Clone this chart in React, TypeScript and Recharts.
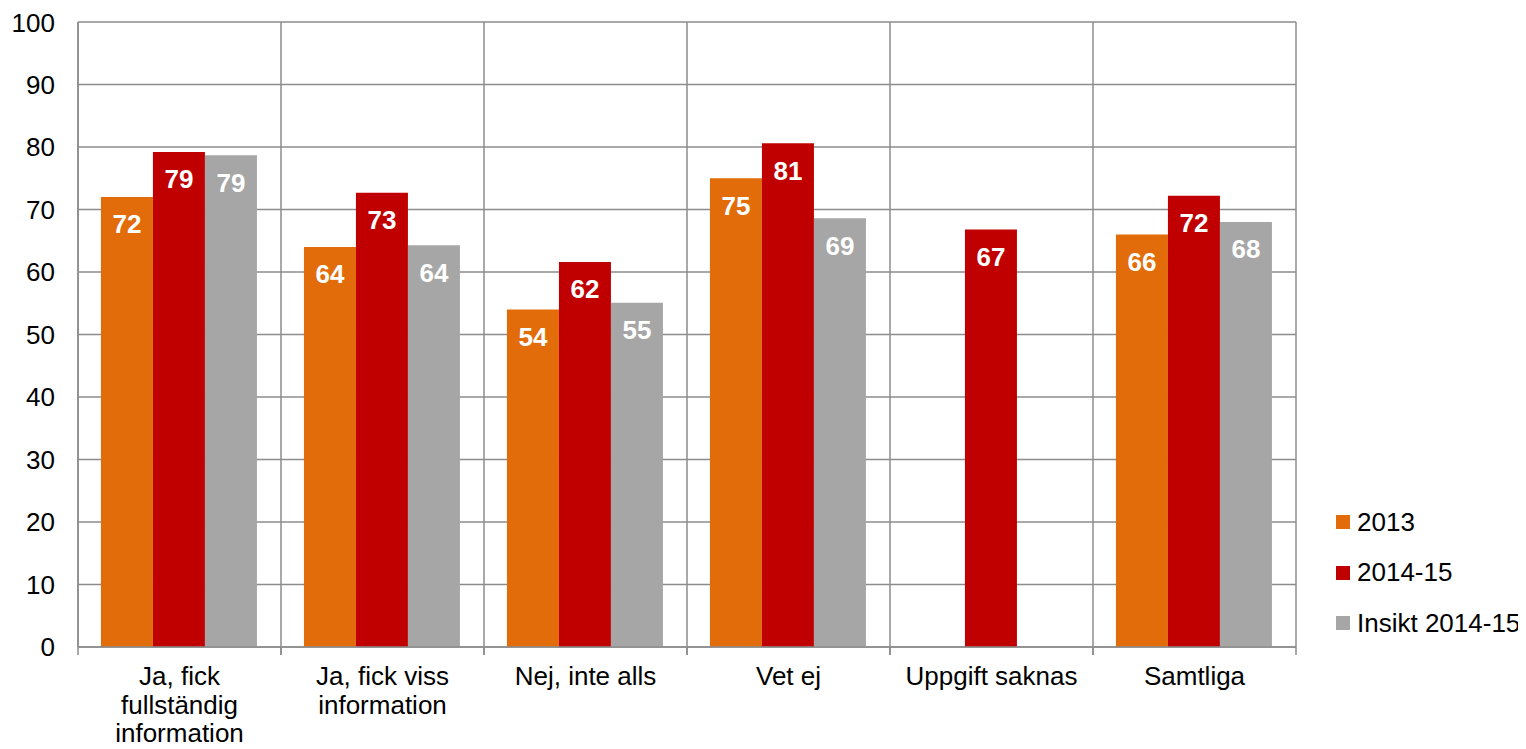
import React from "react";
import {
  BarChart,
  Bar,
  XAxis,
  YAxis,
  CartesianGrid,
  LabelList,
} from "recharts";

const categories = [
  "Ja, fick\nfullständig\ninformation",
  "Ja, fick viss\ninformation",
  "Nej, inte alls",
  "Vet ej",
  "Uppgift saknas",
  "Samtliga",
];
const values2013 = [72, 64, 54, 75, null, 66];
const values2014 = [79.2, 72.7, 61.6, 80.6, 66.8, 72.2];
const valuesInsikt = [78.7, 64.3, 55.1, 68.6, null, 68];
const yTicks = [0, 10, 20, 30, 40, 50, 60, 70, 80, 90, 100];

const seriesInfo = [
  { key: "s2013", name: "2013", color: "#E36C0A" },
  { key: "s2014", name: "2014-15", color: "#C00000" },
  { key: "insikt", name: "Insikt 2014-15", color: "#A6A6A6" },
];

const data = categories.map((c, i) => ({
  name: c,
  s2013: values2013[i],
  s2014: values2014[i],
  insikt: valuesInsikt[i],
}));

const FONT = "'Liberation Sans', Arial, sans-serif";
const BAND = 1218 / 6;

function CategoryTick(props: any) {
  const { x, y, payload } = props;
  const lines = String(payload.value).split("\n");
  return (
    <g>
      <line x1={x - BAND / 2} x2={x - BAND / 2} y1={y - 8} y2={y} stroke="#8c8c8c" strokeWidth={1.5} />
      <line x1={x + BAND / 2} x2={x + BAND / 2} y1={y - 8} y2={y} stroke="#8c8c8c" strokeWidth={1.5} />
      <text x={x} y={y + 30} textAnchor="middle" fontSize={26} fill="#000" fontFamily={FONT}>
        {lines.map((l, i) => (
          <tspan key={i} x={x} dy={i === 0 ? 0 : 28.5}>
            {l}
          </tspan>
        ))}
      </text>
    </g>
  );
}

const fmt = (v: any) => (v == null ? "" : Math.round(v));

export default function App() {
  return (
    <div style={{ position: "relative", width: 1510, height: 741 }}>
      <BarChart
        width={1510}
        height={741}
        data={data}
        margin={{ top: 14, right: 222, bottom: 0, left: 0 }}
        barCategoryGap="11.3%"
        barGap={0}
      >
        <CartesianGrid
          stroke="#8c8c8c"
          strokeWidth={1.5}
          verticalCoordinatesGenerator={({ offset }: any) =>
            [0, 1, 2, 3, 4, 5, 6].map((i) => offset.left + (i * offset.width) / 6)
          }
        />
        <XAxis
          dataKey="name"
          height={102}
          interval={0}
          tickLine={false}
          axisLine={{ stroke: "#8c8c8c", strokeWidth: 1.5 }}
          tick={<CategoryTick />}
        />
        <YAxis
          width={70}
          domain={[0, 100]}
          ticks={yTicks}
          tickLine={false}
          axisLine={{ stroke: "#8c8c8c", strokeWidth: 1.5 }}
          tickMargin={17}
          tick={{ fontSize: 26, fill: "#000", fontFamily: FONT }}
        />
        {seriesInfo.map((s) => (
          <Bar key={s.key} dataKey={s.key} name={s.name} fill={s.color} isAnimationActive={false}>
            <LabelList
              dataKey={s.key}
              position="insideTop"
              offset={18}
              formatter={fmt}
              fill="#fff"
              fontSize={26}
              fontWeight="bold"
              fontFamily={FONT}
            />
          </Bar>
        ))}
      </BarChart>
      <div
        style={{
          position: "absolute",
          left: 1328,
          top: 489,
          fontFamily: FONT,
          fontSize: 26,
          color: "#000",
          whiteSpace: "nowrap",
        }}
      >
        {seriesInfo.map((s) => (
          <div key={s.key} style={{ display: "flex", alignItems: "center", height: 50.5 }}>
            <span style={{ width: 14, height: 14, background: s.color, marginRight: 7, display: "inline-block" }} />
            <span>{s.name}</span>
          </div>
        ))}
      </div>
    </div>
  );
}
